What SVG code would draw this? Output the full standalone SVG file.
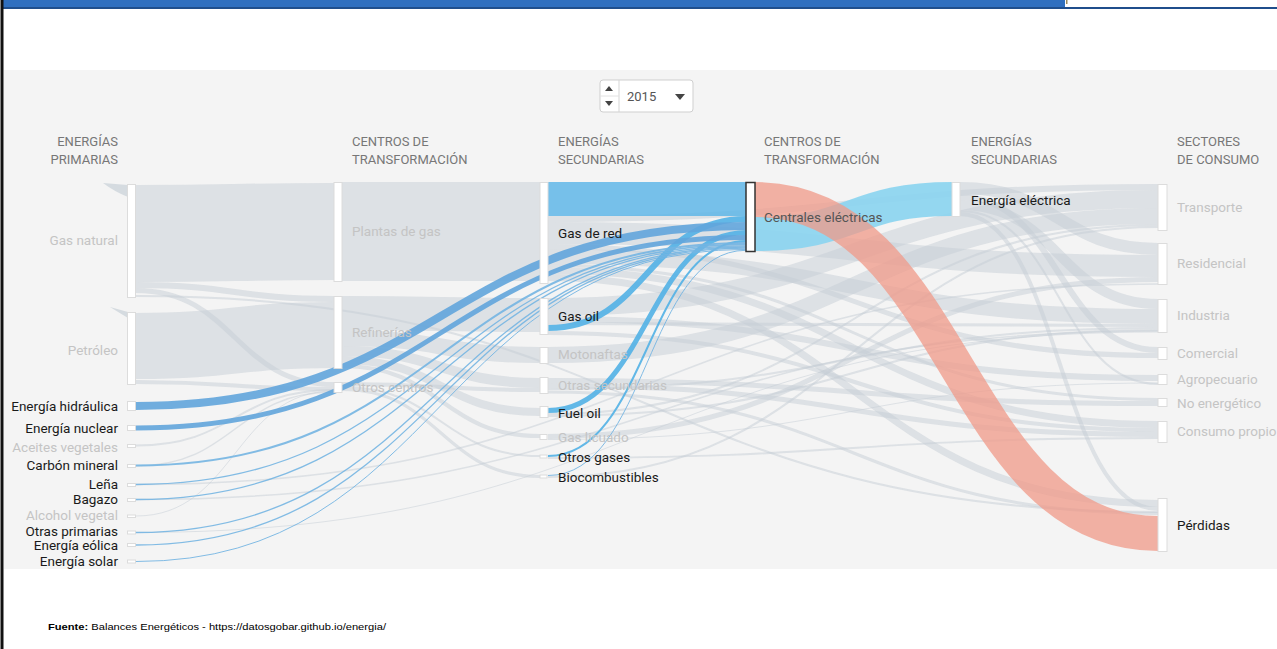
<svg xmlns="http://www.w3.org/2000/svg" width="1277" height="649" viewBox="0 0 1277 649">
<style>
.g{fill:none;stroke:#c6ced5;stroke-opacity:.5}
.bp{fill:none;stroke:#62a5dc;stroke-opacity:.9}
.bt{fill:none;stroke:#74b5e2;stroke-opacity:.9}
.bs{fill:none;stroke:#52b1e5;stroke-opacity:.9}
.n{fill:#fff;stroke:#dcdcdc;stroke-width:1}
.hl{fill:#fff;stroke:#333;stroke-width:1.5}
text{font-family:Roboto,"Liberation Sans",sans-serif}
.h{font-size:13px;fill:#777}
.l{font-size:13.5px;fill:#c4c4c4}
.d{font-size:13.5px;fill:#1a1a1a}
.m{font-size:13.5px;fill:#555}
.r{text-anchor:end}
</style>
<rect x="0" y="0" width="1277" height="649" fill="#fff"/>
<rect x="3" y="0" width="1062" height="7" fill="#2f6fbf"/>
<rect x="1066" y="0" width="1.5" height="4" fill="#9a8a5a"/>
<rect x="3" y="7" width="1274" height="2" fill="#1f4e8c"/>
<rect x="0.5" y="0" width="3" height="649" fill="#111"/>
<rect x="4" y="70" width="1273" height="499" fill="#f4f4f4"/>

<g id="year-selector">
<rect x="600" y="80" width="93" height="32" rx="3" fill="#fff" stroke="#cfcfcf"/>
<line x1="619" y1="80" x2="619" y2="112" stroke="#d5d5d5"/>
<line x1="600" y1="96" x2="619" y2="96" stroke="#e2e2e2"/>
<polygon points="605,91 613,91 609,86" fill="#444"/>
<polygon points="605,101 613,101 609,106" fill="#444"/>
<text x="627" y="101" style="font-size:13px;fill:#555">2015</text>
<polygon points="675,94 685,94 680,100" fill="#444"/>
</g>

<g id="headers">
<text class="h r" x="118" y="146">ENERGÍAS</text>
<text class="h r" x="118" y="164">PRIMARIAS</text>
<text class="h" x="352" y="146">CENTROS DE</text>
<text class="h" x="352" y="164">TRANSFORMACIÓN</text>
<text class="h" x="558" y="146">ENERGÍAS</text>
<text class="h" x="558" y="164">SECUNDARIAS</text>
<text class="h" x="764" y="146">CENTROS DE</text>
<text class="h" x="764" y="164">TRANSFORMACIÓN</text>
<text class="h" x="971" y="146">ENERGÍAS</text>
<text class="h" x="971" y="164">SECUNDARIAS</text>
<text class="h" x="1177" y="146">SECTORES</text>
<text class="h" x="1177" y="164">DE CONSUMO</text>
</g>

<g id="connectors">
<path d="M103 183 L128 185 L128 197 Q115 192 103 183 Z" fill="#d5dbe0"/>
<path d="M110 307 L128 312 L128 318 Q118 312 110 307 Z" fill="#d5dbe0"/>
<path class="g" stroke-width="97" d="M136 233.5C235 233.5 235 231.5 334 231.5"/>
<path class="g" stroke-width="6" d="M136 285C235 285 235 299 334 299"/>
<path class="g" stroke-width="5" d="M136 290.5C235 290.5 235 384.5 334 384.5"/>
<path class="g" stroke-width="66" d="M136 346C235 346 235 335 334 335"/>
<path class="g" stroke-width="4" d="M136 382C235 382 235 389 334 389"/>
<path class="g" stroke-width="2" d="M136 445.5C235 445.5 235 390 334 390"/>
<path class="g" stroke-width="1" d="M136 516C235 516 235 391 334 391"/>
<path class="g" stroke-width="1.5" d="M136 466C235 466 235 392 334 392"/>
<path class="g" stroke-width="1.5" d="M136 484.5C647 484.5 647 284 1158 284"/>
<path class="g" stroke-width="1.5" d="M136 499.5C647 499.5 647 331 1158 331"/>
<path class="g" stroke-width="1" d="M136 532.5C647 532.5 647 332 1158 332"/>
<path class="g" stroke-width="2" d="M136 296C647 296 647 512 1158 512"/>
<path class="g" stroke-width="99" d="M342 231.5C441 231.5 441 231.5 540 231.5"/>
<path class="g" stroke-width="34" d="M342 313C441 313 441 315 540 315"/>
<path class="g" stroke-width="16" d="M342 338C441 338 441 355 540 355"/>
<path class="g" stroke-width="10" d="M342 351C441 351 441 383 540 383"/>
<path class="g" stroke-width="8" d="M342 360C441 360 441 412 540 412"/>
<path class="g" stroke-width="4" d="M342 366C441 366 441 436 540 436"/>
<path class="g" stroke-width="4" d="M342 384C441 384 441 390 540 390"/>
<path class="g" stroke-width="2" d="M342 387C441 387 441 456 540 456"/>
<path class="g" stroke-width="3" d="M342 389.5C441 389.5 441 476.5 540 476.5"/>
<path class="g" stroke-width="6" d="M548 219C853 219 853 187 1158 187"/>
<path class="g" stroke-width="22" d="M548 233C853 233 853 266 1158 266"/>
<path class="g" stroke-width="5" d="M548 246.5C853 246.5 853 355.5 1158 355.5"/>
<path class="g" stroke-width="15" d="M548 256.5C853 256.5 853 316.5 1158 316.5"/>
<path class="g" stroke-width="3" d="M548 265.5C853 265.5 853 399.5 1158 399.5"/>
<path class="g" stroke-width="7" d="M548 270.5C853 270.5 853 424.5 1158 424.5"/>
<path class="g" stroke-width="7" d="M548 277.5C853 277.5 853 503.5 1158 503.5"/>
<path class="g" stroke-width="18" d="M548 307C853 307 853 199 1158 199"/>
<path class="g" stroke-width="6" d="M548 319C853 319 853 378 1158 378"/>
<path class="g" stroke-width="3" d="M548 323.5C853 323.5 853 325.5 1158 325.5"/>
<path class="g" stroke-width="4" d="M548 333C853 333 853 430 1158 430"/>
<path class="g" stroke-width="16" d="M548 355C853 355 853 216 1158 216"/>
<path class="g" stroke-width="5" d="M548 380.5C853 380.5 853 403.5 1158 403.5"/>
<path class="g" stroke-width="5" d="M548 385.5C853 385.5 853 434.5 1158 434.5"/>
<path class="g" stroke-width="2" d="M548 389C853 389 853 328 1158 328"/>
<path class="g" stroke-width="3" d="M548 392C853 392 853 513.5 1158 513.5"/>
<path class="g" stroke-width="2" d="M548 414C853 414 853 225 1158 225"/>
<path class="g" stroke-width="2" d="M548 416C853 416 853 330 1158 330"/>
<path class="g" stroke-width="5" d="M548 436.5C853 436.5 853 279.5 1158 279.5"/>
<path class="g" stroke-width="1" d="M548 439.5C853 439.5 853 383 1158 383"/>
<path class="g" stroke-width="2" d="M548 458C853 458 853 438 1158 438"/>
<path class="g" stroke-width="2" d="M548 477C853 477 853 227 1158 227"/>
<path class="g" stroke-width="12" d="M960 188C1059 188 1059 249 1158 249"/>
<path class="g" stroke-width="6" d="M960 197C1059 197 1059 350 1158 350"/>
<path class="g" stroke-width="10" d="M960 205C1059 205 1059 304 1158 304"/>
<path class="g" stroke-width="2" d="M960 211C1059 211 1059 384 1158 384"/>
<path class="g" stroke-width="4" d="M960 214C1059 214 1059 509 1158 509"/>

<path fill="none" stroke="#5fb6e7" stroke-opacity=".85" stroke-width="34" d="M548 199C647 199 647 199 746 199"/>
<path class="bs" stroke-width="6" d="M548 328C647 328 647 219 746 219"/>
<path class="bp" stroke-width="8" d="M136 406C441 406 441 226 746 226"/>
<path class="bs" stroke-width="5" d="M548 410.5C647 410.5 647 232.5 746 232.5"/>
<path class="bp" stroke-width="5" d="M136 428C441 428 441 237.5 746 237.5"/>
<path class="bs" stroke-width="2" d="M548 456C647 456 647 241 746 241"/>
<path class="bt" stroke-width="2" d="M136 465.5C441 465.5 441 243 746 243"/>
<path class="bt" stroke-width="1.3" d="M136 484.5C441 484.5 441 244.5 746 244.5"/>
<path class="bt" stroke-width="1.3" d="M136 499.5C441 499.5 441 245.8 746 245.8"/>
<path class="bt" stroke-width="1.3" d="M136 532.5C441 532.5 441 247 746 247"/>
<path class="bt" stroke-width="1.3" d="M136 545C441 545 441 248.2 746 248.2"/>
<path class="bt" stroke-width="1" d="M136 561.5C441 561.5 441 249.4 746 249.4"/>
<path class="bt" stroke-width="1" d="M548 475.5C647 475.5 647 250.3 746 250.3"/>
<path fill="none" stroke="#8ad4ef" stroke-opacity=".9" stroke-width="34" d="M755 234C853.5 234 853.5 199 952 199"/>
<path fill="none" stroke="#f09a88" stroke-opacity=".75" stroke-width="35" d="M755 199.5C956.5 199.5 956.5 533.5 1158 533.5"/>
</g>

<g id="n-gas-natural"><rect class="n" x="127.5" y="184.5" width="8" height="113"/><text class="l r" x="118" y="245">Gas natural</text></g>
<g id="n-petroleo"><rect class="n" x="127.5" y="312.5" width="8" height="72"/><text class="l r" x="118" y="355">Petróleo</text></g>
<g id="n-hidraulica"><rect class="n" x="127.5" y="401.5" width="8" height="9"/><text class="d r" x="118" y="411">Energía hidráulica</text></g>
<g id="n-nuclear"><rect class="n" x="127.5" y="425.5" width="8" height="5"/><text class="d r" x="118" y="433">Energía nuclear</text></g>
<g id="n-aceites"><rect class="n" x="127.5" y="444.5" width="8" height="3"/><text class="l r" x="118" y="452">Aceites vegetales</text></g>
<g id="n-carbon"><rect class="n" x="127.5" y="464.5" width="8" height="3"/><text class="d r" x="118" y="470">Carbón mineral</text></g>
<g id="n-lena"><rect class="n" x="127.5" y="483.5" width="8" height="3"/><text class="d r" x="118" y="489">Leña</text></g>
<g id="n-bagazo"><rect class="n" x="127.5" y="498.5" width="8" height="3"/><text class="d r" x="118" y="504">Bagazo</text></g>
<g id="n-alcohol"><rect class="n" x="127.5" y="515" width="8" height="2.5"/><text class="l r" x="118" y="520">Alcohol vegetal</text></g>
<g id="n-otras-primarias"><rect class="n" x="127.5" y="531" width="8" height="3"/><text class="d r" x="118" y="536">Otras primarias</text></g>
<g id="n-eolica"><rect class="n" x="127.5" y="543.5" width="8" height="3"/><text class="d r" x="118" y="550">Energía eólica</text></g>
<g id="n-solar"><rect class="n" x="127.5" y="560" width="8" height="3"/><text class="d r" x="118" y="566">Energía solar</text></g>

<g id="n-plantas-gas"><rect class="n" x="334" y="182.5" width="8" height="99"/><text class="l" x="352" y="236">Plantas de gas</text></g>
<g id="n-refinerias"><rect class="n" x="334" y="296.5" width="8" height="72"/><text class="l" x="352" y="337">Refinerías</text></g>
<g id="n-otros-centros"><rect class="n" x="334" y="382.5" width="8" height="10"/><text class="l" x="352" y="392">Otros centros</text></g>

<g id="n-gas-red"><rect class="n" x="540" y="182.5" width="8" height="101"/><text class="d" x="558" y="238">Gas de red</text></g>
<g id="n-gas-oil"><rect class="n" x="540" y="298.5" width="8" height="36"/><text class="d" x="558" y="321">Gas oil</text></g>
<g id="n-motonaftas"><rect class="n" x="540" y="347.5" width="8" height="16"/><text class="l" x="558" y="359">Motonaftas</text></g>
<g id="n-otras-secundarias"><rect class="n" x="540" y="377.5" width="8" height="16"/><text class="l" x="558" y="390">Otras secundarias</text></g>
<g id="n-fuel-oil"><rect class="n" x="540" y="406.5" width="8" height="11"/><text class="d" x="558" y="418">Fuel oil</text></g>
<g id="n-gas-licuado"><rect class="n" x="540" y="434.5" width="7" height="5"/><text class="l" x="558" y="442">Gas licuado</text></g>
<g id="n-otros-gases"><rect class="n" x="540" y="455" width="7" height="3"/><text class="d" x="558" y="462">Otros gases</text></g>
<g id="n-biocombustibles"><rect class="n" x="540" y="475" width="7" height="3"/><text class="d" x="558" y="482">Biocombustibles</text></g>

<g id="n-centrales"><rect class="hl" x="746" y="182.5" width="9" height="69"/><text class="m" x="764" y="222">Centrales eléctricas</text></g>

<g id="n-energia-electrica"><rect class="n" x="952" y="182.5" width="8" height="34"/><text class="d" x="971" y="205">Energía eléctrica</text></g>

<g id="n-transporte"><rect class="n" x="1158" y="184.5" width="9" height="46"/><text class="l" x="1177" y="212">Transporte</text></g>
<g id="n-residencial"><rect class="n" x="1158" y="243.5" width="9" height="41"/><text class="l" x="1177" y="268">Residencial</text></g>
<g id="n-industria"><rect class="n" x="1158" y="299.5" width="9" height="33"/><text class="l" x="1177" y="320">Industria</text></g>
<g id="n-comercial"><rect class="n" x="1158" y="347.5" width="9" height="12"/><text class="l" x="1177" y="358">Comercial</text></g>
<g id="n-agropecuario"><rect class="n" x="1158" y="374.5" width="9" height="10"/><text class="l" x="1177" y="384">Agropecuario</text></g>
<g id="n-no-energetico"><rect class="n" x="1158" y="398.5" width="9" height="8"/><text class="l" x="1177" y="408">No energético</text></g>
<g id="n-consumo-propio"><rect class="n" x="1158" y="421.5" width="9" height="21"/><text class="l" x="1177" y="436">Consumo propio</text></g>
<g id="n-perdidas"><rect class="n" x="1158" y="498.5" width="9" height="53"/><text class="d" x="1177" y="530">Pérdidas</text></g>

<text x="48" y="630" style="font-family:'Liberation Sans',Arial,sans-serif;font-size:9px;fill:#000" textLength="338" lengthAdjust="spacingAndGlyphs"><tspan font-weight="bold">Fuente:</tspan> Balances Energéticos -  https://datosgobar.github.io/energia/</text>
</svg>
